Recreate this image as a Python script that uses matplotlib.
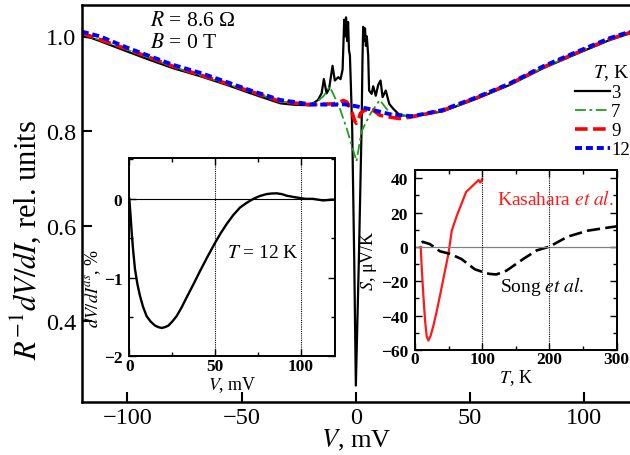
import numpy as np
import matplotlib
matplotlib.use("Agg")
import matplotlib.pyplot as plt
from matplotlib.ticker import MultipleLocator

plt.rcParams['font.family'] = ['Liberation Serif', 'DejaVu Serif']
plt.rcParams['mathtext.fontset'] = 'stix'

# main panel: R^-1 dV/dI vs V for several T
v3 = [-120, -116, -112, -100, -90, -80, -68, -56, -46, -38, -33, -27, -20, -18.8, -16.6, -15, -14, -12.8,
      -11.7, -10.2, -9.2, -7.7, -6.7, -5.8, -5.1, -4.6, -4.3, -3.8, -3.4, -3.0, -2.6, -2.2, -1.6, -0.7, 0,
      1.3, 2.5, 2.9, 3.2, 3.6, 4.0, 4.4, 4.8, 5.4, 5.8, 6.9, 7.6, 8.7, 9.8, 10.8, 11.7, 13.1, 14.6, 16.3,
      19.2, 23.6, 28, 38, 53, 67, 82, 97, 111, 118.5, 120]
r3 = [1.000, 0.997, 0.990, 0.968, 0.950, 0.933, 0.916, 0.897, 0.880, 0.867, 0.859, 0.856, 0.855, 0.859, 0.866,
      0.880, 0.910, 0.880, 0.890, 0.938, 0.907, 0.914, 0.910, 0.930, 1.035, 1.000, 1.040, 0.990, 1.030, 0.970,
      0.960, 0.900, 0.806, 0.526, 0.265, 0.526, 0.806, 0.950, 1.020, 0.990, 1.017, 0.980, 1.000, 0.960, 0.886,
      0.879, 0.895, 0.875, 0.898, 0.907, 0.872, 0.886, 0.858, 0.848, 0.834, 0.832, 0.834, 0.842, 0.869, 0.897,
      0.933, 0.964, 0.992, 1.004, 1.006]

v7 = [-120, -100, -80, -56, -33, -20, -17, -14, -11.5, -10, -7, -4, 0.3, 2.5, 6, 9, 10.5, 13, 15, 20, 28,
      38, 53, 67, 82, 97, 111, 120]
r7 = [1.005, 0.972, 0.936, 0.899, 0.863, 0.857, 0.862, 0.875, 0.894, 0.880, 0.848, 0.806, 0.737, 0.800,
      0.834, 0.856, 0.866, 0.850, 0.838, 0.832, 0.834, 0.843, 0.870, 0.898, 0.934, 0.965, 0.993, 1.007]

v9 = [-120, -100, -80, -56, -33, -20, -10, -7, -5.5, -4, -2, -0.5, 0.2, 1.5, 2, 4, 7.5, 10.5, 15, 19, 24,
      28, 38, 53, 67, 82, 97, 111, 120]
r9 = [1.007, 0.973, 0.937, 0.900, 0.863, 0.856, 0.858, 0.862, 0.865, 0.862, 0.845, 0.822, 0.817, 0.830,
      0.838, 0.845, 0.845, 0.834, 0.830, 0.827, 0.830, 0.834, 0.844, 0.871, 0.899, 0.935, 0.966, 0.994, 1.008]

v12 = [-120, -112, -100, -90, -80, -68, -56, -46, -33, -20, -10, -5, 0, 5, 7.5, 15, 20, 24, 28, 38, 53,
       67, 82, 97, 111, 120]
r12 = [1.010, 1.000, 0.976, 0.958, 0.940, 0.923, 0.903, 0.886, 0.866, 0.857, 0.856, 0.857, 0.853, 0.848,
       0.845, 0.836, 0.834, 0.832, 0.835, 0.845, 0.872, 0.900, 0.937, 0.968, 0.996, 1.010]

# inset 1: dV/dI^as at 12 K
v_in = [0, 0.7, 1.4, 2.3, 3.3, 4.7, 6.2, 8, 10.1, 12.5, 15, 17, 18.9, 20.8, 22.8, 25, 27.6, 30.5, 33.5,
        37.3, 41.2, 45.5, 50, 53.5, 56.8, 60.5, 64.6, 68.5, 72.4, 76, 80, 83, 86, 89, 91.8, 95.5, 99.6,
        103, 107, 110, 113, 116, 120]
d_in = [0, -0.2, -0.43, -0.67, -0.89, -1.08, -1.23, -1.37, -1.49, -1.56, -1.61, -1.63, -1.64, -1.63,
        -1.61, -1.56, -1.49, -1.38, -1.25, -1.09, -0.92, -0.74, -0.56, -0.43, -0.32, -0.21, -0.11, -0.05,
        0.0, 0.035, 0.06, 0.068, 0.07, 0.06, 0.04, 0.025, 0.01, 0.0, 0.0, -0.01, -0.02, -0.015, -0.01]

# inset 2: thermopower
t_kas = [8.5, 10, 12.4, 15, 17.4, 19.9, 23, 27.3, 32, 37.3, 43, 49.7, 54.7, 62, 70, 76, 84, 92, 94.5, 97, 100]
s_kas = [0, -12, -28, -43, -52, -54.5, -52, -46, -38, -28, -17, -4, 9.5, 18, 26, 32, 35, 38, 39, 37.5, 39.5]
t_song = [10, 11.5, 22, 37, 52, 69, 89, 104, 111, 121, 136, 161, 181, 200, 227, 257, 282, 300]
s_song = [2.5, 3, 1.7, -2.5, -4, -7, -13, -15, -15.7, -16, -13.8, -7, -2, 0.2, 6, 9.5, 11, 12]

fig = plt.figure(figsize=(6.3, 4.56), dpi=100)
ax = fig.add_axes([81.7/630, 53.3/456, 548.3/630, 396.7/456])

ax.plot(v3, r3, color='black', lw=1.6, label='3')
ax.plot(v7, r7, color='#1fa01f', lw=1.3, dashes=(6, 2, 1.5, 2), label='7')
ax.plot(v9, r9, color='red', lw=2.6, dashes=(3.5, 1.5), label='9')
ax.plot(v12, r12, color='blue', lw=2.8, dashes=(1.8, 1.0), label='12')

ax.set_xlim(-120, 120)
ax.set_ylim(0.231, 1.066)
ax.set_xticks([-100, -50, 0, 50, 100])
ax.set_xticklabels(['\u2212100', '\u221250', '0', '50', '100'])
ax.set_yticks([0.4, 0.6, 0.8, 1.0])
ax.tick_params(direction='in', length=7, width=1.5, labelsize=17.5, pad=4)
for s in ax.spines.values():
    s.set_linewidth(1.8)
ax.spines['right'].set_visible(False)
ax.set_xlabel('$V$, mV', fontsize=19, labelpad=-1)
ax.set_ylabel('$R^{-1}dV/dI$, rel. units', fontsize=22)
ax.yaxis.set_label_coords(-0.07, 0.41)

ax.text(-90, 1.033, '$R$ = 8.6 \u03a9', fontsize=15.5, va='center')
ax.text(-90, 0.988, '$B$ = 0 T', fontsize=15.5, va='center')

leg = ax.legend(loc='upper right', bbox_to_anchor=(1.0, 0.855), frameon=False, fontsize=13.5,
                title='$T$, K', title_fontsize=14, handlelength=1.9, handletextpad=0.05,
                labelspacing=0.1, borderpad=0, borderaxespad=0, alignment='right')

# inset 1
ax1 = fig.add_axes([129.3/630, (456-357.3)/456, 205.7/630, 198/456])
ax1.plot(v_in, d_in, color='black', lw=1.7)
ax1.axhline(0, color='black', lw=0.8)
for x in [50, 100]:
    ax1.axvline(x, color='black', lw=0.8, ls=(0, (1, 1)))
ax1.set_xlim(0, 120)
ax1.set_ylim(-2, 0.515)
ax1.set_xticks([0, 50, 100])
ax1.set_yticks([-2, -1, 0])
ax1.set_yticklabels(['\u22122', '\u22121', '0'])
ax1.xaxis.set_minor_locator(MultipleLocator(25))
ax1.yaxis.set_minor_locator(MultipleLocator(0.5))
ax1.tick_params(which='both', direction='in', top=True, right=True, width=1.0, labelsize=12.5)
ax1.tick_params(axis='x', pad=1)
ax1.tick_params(axis='y', pad=5)
ax1.tick_params(which='major', length=5)
ax1.tick_params(which='minor', length=3)
for lab in ax1.get_xticklabels() + ax1.get_yticklabels():
    lab.set_fontweight('bold')
for s in ax1.spines.values():
    s.set_linewidth(1.4)
ax1.set_xlabel('$V$, mV', fontsize=13, labelpad=0)
ax1.set_ylabel('$dV/dI^{as}$, %', fontsize=13)
ax1.yaxis.set_label_coords(-0.13, 0.35)
ax1.text(57, -0.68, '$T$ = 12 K', fontsize=14, va='center')

# inset 2
ax2 = fig.add_axes([415/630, (456-351)/456, 201.7/630, 180.3/456])
ax2.plot(t_kas, s_kas, color='#ff1a1a', lw=1.6)
ax2.plot(t_song, s_song, color='black', lw=1.9, dashes=(5, 2))
ax2.axhline(0, color='gray', lw=0.9)
for x in [100, 200]:
    ax2.axvline(x, color='black', lw=0.8, ls=(0, (1, 1)))
ax2.set_xlim(0, 300)
ax2.set_ylim(-60, 45)
ax2.set_xticks([0, 100, 200, 300])
ax2.set_yticks([-60, -40, -20, 0, 20, 40])
ax2.set_yticklabels(['\u221260', '\u221240', '\u221220', '0', '20', '40'])
ax2.xaxis.set_minor_locator(MultipleLocator(50))
ax2.yaxis.set_minor_locator(MultipleLocator(10))
ax2.tick_params(which='both', direction='in', top=True, right=True, width=1.0, labelsize=12.5)
ax2.tick_params(axis='x', pad=1)
ax2.tick_params(axis='y', pad=5)
ax2.tick_params(which='major', length=5)
ax2.tick_params(which='minor', length=3)
for lab in ax2.get_xticklabels() + ax2.get_yticklabels():
    lab.set_fontweight('bold')
for s in ax2.spines.values():
    s.set_linewidth(1.4)
ax2.set_xlabel('$T$, K', fontsize=13, labelpad=0)
ax2.set_ylabel('$S$, \u03bcV/K', fontsize=13, labelpad=1)
ax2.text(122, 28, 'Kasahara $et\\ al.$', color='#ff1a1a', fontsize=14, va='center')
ax2.text(126, -22.7, 'Song $et\\ al.$', color='black', fontsize=14, va='center')

fig.savefig('out.png', dpi=100)
